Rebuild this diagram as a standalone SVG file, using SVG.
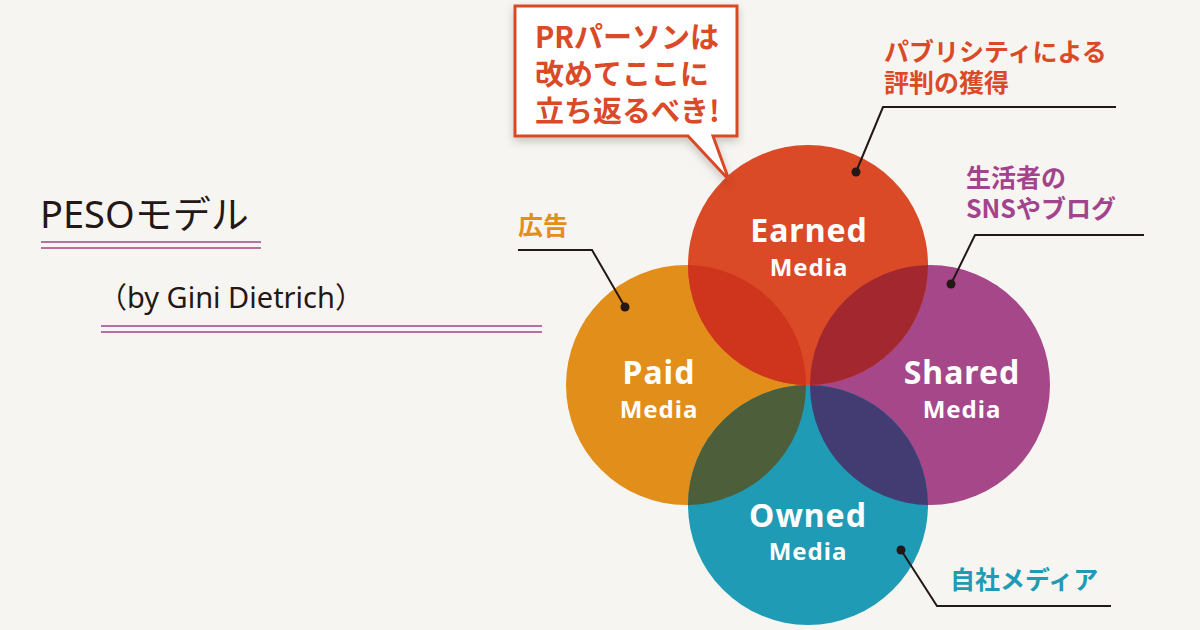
<svg xmlns="http://www.w3.org/2000/svg" width="1200" height="630" viewBox="0 0 1200 630">
<style>
.jp{font-family:"Noto Sans CJK JP","Noto Sans",sans-serif;font-weight:700}
.t{font-family:"Noto Sans","Noto Sans CJK JP",sans-serif;fill:#231815}
.cl{font-family:"Noto Sans","DejaVu Sans",sans-serif;font-weight:700;fill:#fff;text-anchor:middle;letter-spacing:1px}
.ld{fill:none;stroke:#231815;stroke-width:2}
.pl{stroke:#a2438e;stroke-width:1.3}
</style>
<defs>
<clipPath id="cE"><circle cx="808" cy="265" r="120"/></clipPath>
<clipPath id="cO"><circle cx="808" cy="505" r="120"/></clipPath>
<filter id="sh" x="-10%" y="-10%" width="130%" height="140%"><feDropShadow dx="0" dy="4" stdDeviation="4" flood-color="#000" flood-opacity="0.2"/></filter>
</defs>
<rect width="1200" height="630" fill="#f7f5f1"/>
<g id="title">
<text class="t" x="40" y="228" font-size="38">PESOモデル</text>
<line class="pl" x1="41" y1="242" x2="261" y2="242"/><line class="pl" x1="41" y1="248" x2="261" y2="248"/>
<text class="t" x="98" y="308" font-size="29">（by Gini Dietrich）</text>
<line class="pl" x1="101" y1="326" x2="542" y2="326"/><line class="pl" x1="101" y1="332" x2="542" y2="332"/>
</g>
<g id="circles">
<circle cx="686" cy="385" r="120" fill="#e28e1a"/>
<circle cx="930" cy="385" r="120" fill="#a6478a"/>
<circle cx="808" cy="505" r="120" fill="#1f9bb6"/>
<circle cx="808" cy="265" r="120" fill="#da4a26"/>
<g clip-path="url(#cE)"><circle cx="686" cy="385" r="120" fill="#cf351c"/><circle cx="930" cy="385" r="120" fill="#a2272f"/></g>
<g clip-path="url(#cO)"><circle cx="686" cy="385" r="120" fill="#4c5f3a"/><circle cx="930" cy="385" r="120" fill="#433c73"/></g>
</g>
<g id="earned"><text class="cl" x="809" y="242" font-size="32">Earned</text><text class="cl" x="809" y="276" font-size="24">Media</text></g>
<g id="paid"><text class="cl" x="659" y="384" font-size="32">Paid</text><text class="cl" x="659" y="418" font-size="24">Media</text></g>
<g id="shared"><text class="cl" x="962" y="384" font-size="32">Shared</text><text class="cl" x="962" y="418" font-size="24">Media</text></g>
<g id="owned"><text class="cl" x="808" y="527" font-size="32">Owned</text><text class="cl" x="808" y="560" font-size="24">Media</text></g>
<g id="connectors">
<polyline class="ld" points="518,250 592,250 625,307"/><circle cx="625" cy="307" r="4.5" fill="#231815"/>
<polyline class="ld" points="1116,107 883,107 856,172"/><circle cx="856" cy="172" r="4.5" fill="#231815"/>
<polyline class="ld" points="1144,235 975,235 951,284"/><circle cx="951" cy="284" r="4.5" fill="#231815"/>
<polyline class="ld" points="1111,606 937,606 901,550"/><circle cx="901" cy="550" r="4.5" fill="#231815"/>
</g>
<g id="labels" class="jp">
<text x="518" y="235" font-size="25" fill="#e28e1a">広告</text>
<text x="884" y="61" font-size="25" fill="#da4a26">パブリシティによる</text>
<text x="884" y="92" font-size="25" fill="#da4a26">評判の獲得</text>
<text x="966" y="187" font-size="25" fill="#a2438e">生活者の</text>
<text x="966" y="218" font-size="25" fill="#a2438e">SNSやブログ</text>
<text x="950" y="589" font-size="25" fill="#1f9bb6">自社メディア</text>
</g>
<g id="callout">
<path d="M515,6 H737 V136 H713 L729,180 L688,136 H515 Z" fill="#fff" stroke="#da4a26" stroke-width="3" filter="url(#sh)"/>
<g class="jp" font-size="29" fill="#da4a26">
<text x="535" y="48">PRパーソンは</text>
<text x="535" y="85">改めてここに</text>
<text x="535" y="122">立ち返るべき!</text>
</g>
</g>
</svg>
